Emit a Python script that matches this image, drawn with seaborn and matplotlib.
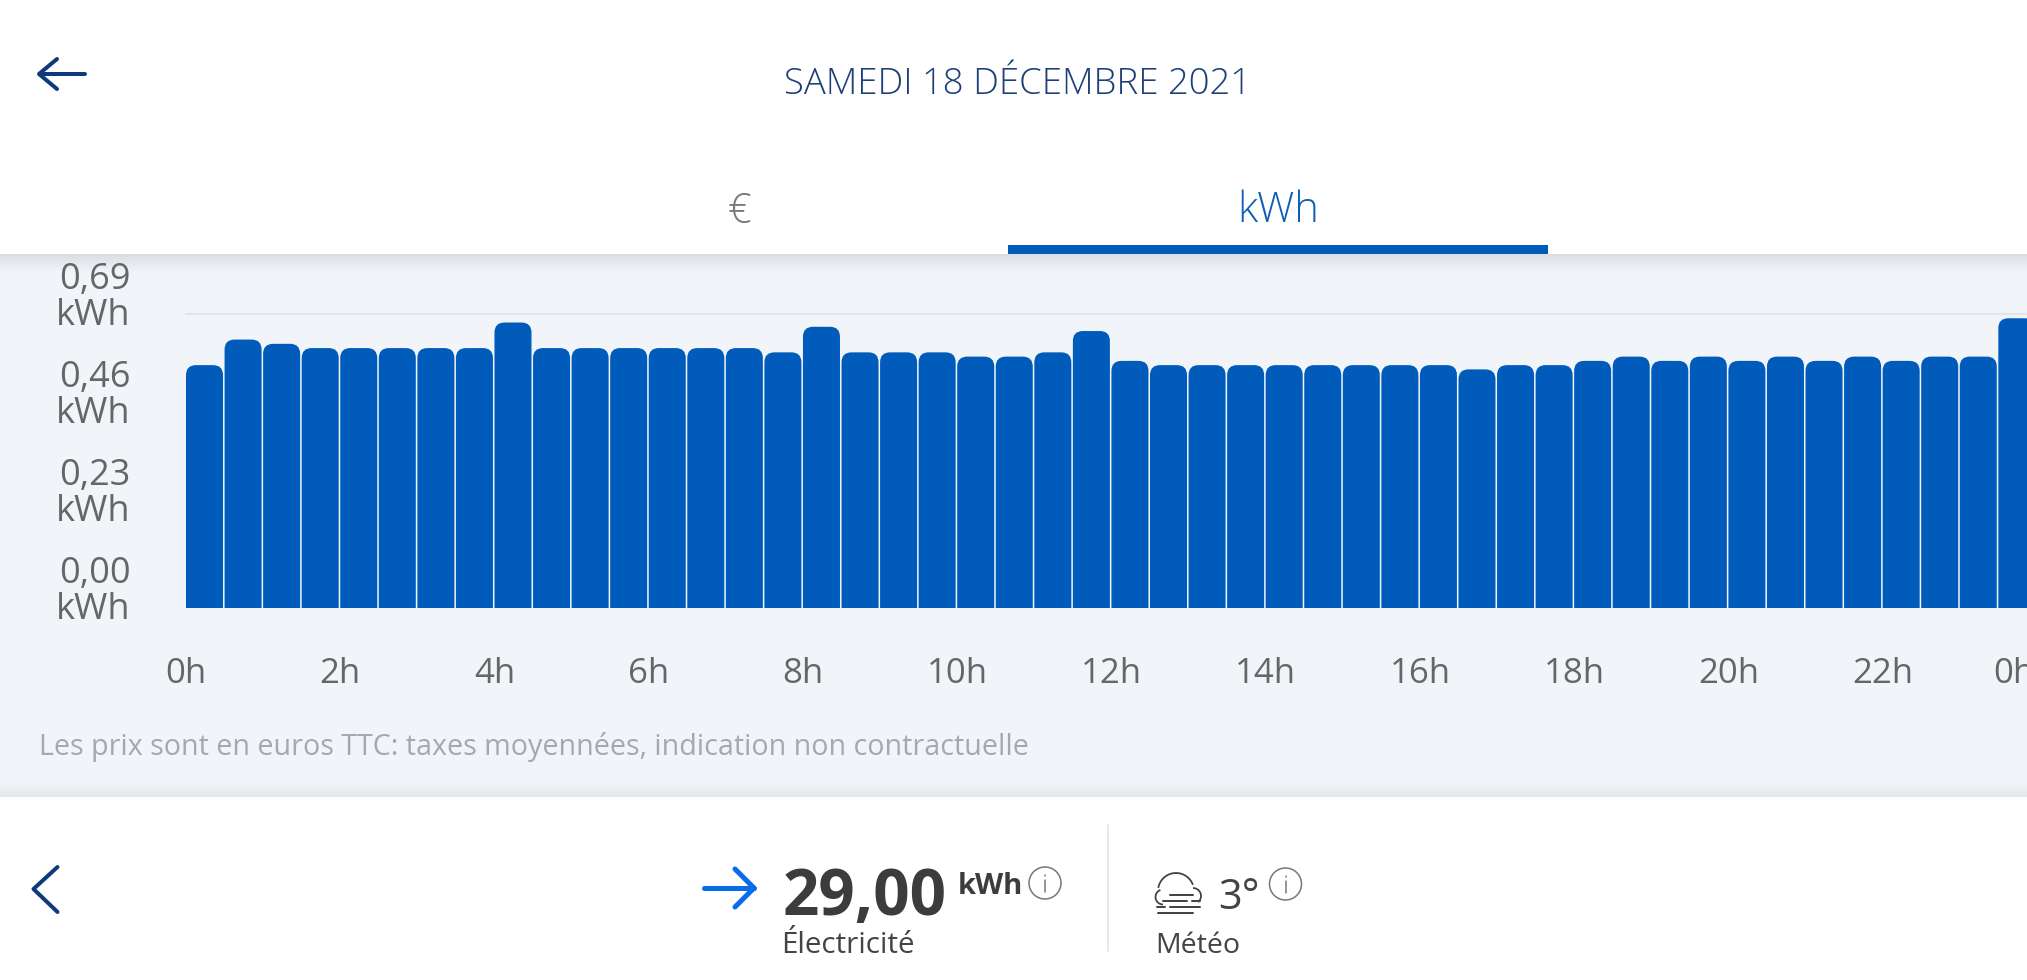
import matplotlib
matplotlib.use("Agg")
import matplotlib.pyplot as plt
import seaborn as sns
import numpy as np
import pandas as pd
from matplotlib.patches import FancyBboxPatch, Circle, Rectangle, Arc
from matplotlib.transforms import ScaledTranslation

# half-hourly consumption (kWh)
slots = [f"{h}h{m:02d}" for h in range(24) for m in (0, 30)]
kwh = [0.57, 0.63, 0.62, 0.61, 0.61, 0.61, 0.61, 0.61,
       0.67, 0.61, 0.61, 0.61, 0.61, 0.61, 0.61, 0.60,
       0.66, 0.60, 0.60, 0.60, 0.59, 0.59, 0.60, 0.65,
       0.58, 0.57, 0.57, 0.57, 0.57, 0.57, 0.57, 0.57,
       0.57, 0.56, 0.57, 0.57, 0.58, 0.59, 0.58, 0.59,
       0.58, 0.59, 0.58, 0.59, 0.58, 0.59, 0.59, 0.68]
y_ticks = [0.0, 0.23, 0.46, 0.69]
y_labels = ["0,00\nkWh", "0,23\nkWh", "0,46\nkWh", "0,69\nkWh"]
x_labels = ["0h", "2h", "4h", "6h", "8h", "10h", "12h", "14h", "16h", "18h", "20h", "22h", "0h"]

W, H = 2027, 980
BLUE = "#005BBB"
NAVY = "#0E3A7C"
PANEL = "#F1F5FA"
GREY = "#666666"
DARK = "#3C3C3C"
ICON = "#444444"
FONT = "Open Sans"

sns.set_theme(style="white")
plt.rcParams["font.family"] = [FONT, "DejaVu Sans"]

fig = plt.figure(figsize=(W / 100, H / 100), dpi=100, facecolor="white")

# page furniture, in pixel coordinates
ui = fig.add_axes([0, 0, 1, 1], zorder=0)
ui.set_xlim(0, W)
ui.set_ylim(H, 0)
ui.axis("off")


def shade(y0, y1, c0, c1):
    """Soft shadow between two greys."""
    a = np.array(matplotlib.colors.to_rgb(c0))
    b = np.array(matplotlib.colors.to_rgb(c1))
    t = np.linspace(0, 1, 32)[:, None, None]
    ui.imshow(a + (b - a) * t, extent=[0, W, y1, y0], aspect="auto", zorder=1)


def px_line(xs, ys, color, lw=3.0):
    ui.plot(xs, ys, color=color, lw=lw * 0.72, solid_capstyle="round", solid_joinstyle="round", zorder=3)


def label(x, y, s, size, color, ha="center", weight="normal", va="center"):
    ui.text(x, y, s, fontsize=size, color=color, ha=ha, va=va, fontweight=weight, zorder=3)


def info(x, y):
    ui.add_patch(Circle((x, y), 16, fill=False, ec="#777777", lw=1.1, zorder=3))
    px_line([x, x], [y - 3, y + 9], "#777777", 1.5)
    px_line([x, x], [y - 8, y - 7.5], "#777777", 1.5)


ui.add_patch(Rectangle((0, 254), W, 543, fc=PANEL, ec="none", zorder=0))
shade(254, 272, "#DADDE2", PANEL)
shade(782, 797, PANEL, "#E4E6EA")
ui.set_xlim(0, W)
ui.set_ylim(H, 0)

# header
px_line([40, 85], [74, 74], NAVY, 4)
px_line([57, 39, 57], [59, 74, 89], NAVY, 4)
label(1018, 85, "SAMEDI 18 DÉCEMBRE 2021", 26.3, "#1D4078", weight="light")
label(739, 212, "€", 30, "#787878", weight="light")
label(1278, 211, "kWh", 30, "#0F5DB5", weight="light")
ui.add_patch(Rectangle((1008, 245), 540, 9, fc=BLUE, ec="none", zorder=3))

# footnote and bottom bar
label(39, 747, "Les prix sont en euros TTC: taxes moyennées, indication non contractuelle", 20.6, "#A6A8AB", ha="left")
px_line([57.5, 33.5, 57.5], [867, 889, 912], NAVY, 4)
px_line([704, 754], [888, 888], "#0A6BE8", 5)
px_line([735, 754, 735], [869, 888, 907], "#0A6BE8", 5)
label(783, 915, "29,00", 46, DARK, ha="left", weight="bold", va="baseline")
label(958, 894, "kWh", 21, DARK, ha="left", weight="bold", va="baseline")
info(1045, 883)
label(781, 953, "Électricité", 21.3, ICON, ha="left", va="baseline")
ui.plot([1108, 1108], [825, 951], color="#E6E8EB", lw=1.5, zorder=2)

# fog icon
ui.add_patch(Arc((1176, 891), 36, 36, theta1=190, theta2=340, ec=ICON, lw=1.3, zorder=3))
ui.add_patch(Arc((1163, 897), 15, 15, theta1=90, theta2=250, ec=ICON, lw=1.3, zorder=3))
ui.add_patch(Arc((1193, 896), 16, 16, theta1=270, theta2=50, ec=ICON, lw=1.3, zorder=3))
px_line([1170, 1193], [894.5, 894.5], ICON, 2)
px_line([1163, 1187], [901, 901], ICON, 2)
px_line([1192, 1200], [901, 901], ICON, 2)
px_line([1157, 1165], [907, 907], ICON, 2)
px_line([1170, 1200], [907, 907], ICON, 2)
px_line([1158, 1193], [912.5, 912.5], ICON, 2)
label(1218, 909, "3°", 30, ICON, ha="left", va="baseline")
info(1285.5, 884)
label(1155, 953, "Météo", 20.5, ICON, ha="left", va="baseline")

# chart: axes spans bar 0 left edge to the 24h tick, which sits just off the page
step = 38.56
bar_w = 0.96
left, right = 186, 186 + 48 * step
bottom_px, top_px = 608, 314
ax = fig.add_axes([left / W, 1 - bottom_px / H, (right - left) / W, (bottom_px - top_px) / H], zorder=1)
ax.patch.set_alpha(0)

df = pd.DataFrame({"slot": slots, "kwh": kwh})
sns.barplot(data=df, x="slot", y="kwh", color=BLUE, saturation=1, width=bar_w, ax=ax, zorder=2)

x0_lim = -bar_w / 2
ax.set_xlim(x0_lim, x0_lim + 48)
ax.set_ylim(0, 0.69)
ax.set_xlabel("")
ax.set_ylabel("")
sns.despine(ax=ax, left=True, bottom=True)
ax.axhline(0.69, color="#E2E5EA", lw=1.6, clip_on=False, zorder=1)

ax.set_xticks(np.arange(0, 49, 4) + x0_lim, x_labels)
ax.set_yticks(y_ticks, y_labels)
ax.tick_params(axis="x", length=0, pad=35.5, labelsize=25, labelcolor=GREY)
ax.tick_params(axis="y", length=0, pad=40, labelsize=26, labelcolor=GREY)

# y labels sit a little above their value
shift = ScaledTranslation(0, 21 / 100, fig.dpi_scale_trans)
for t in ax.get_yticklabels():
    t.set_linespacing(1.03)
    t.set_transform(t.get_transform() + shift)

# the last 0h label is pushed back towards the page
last = ax.get_xticklabels()[-1]
last.set_transform(last.get_transform() + ScaledTranslation(-23 / 100, 0, fig.dpi_scale_trans))

# round the top corners of the seaborn bars
rx = 10 / step
ry = 10 / ((bottom_px - top_px) / 0.69)
for bar in list(ax.patches):
    x0, w, h = bar.get_x(), bar.get_width(), bar.get_height()
    box = FancyBboxPatch((x0, -0.05), w, h + 0.05, boxstyle=f"round,pad=0,rounding_size={rx}",
                         mutation_aspect=ry / rx, fc=bar.get_facecolor(), ec="none", zorder=2)
    ax.add_patch(box)
    bar.set_visible(False)

fig.savefig("out.png", dpi=100)
